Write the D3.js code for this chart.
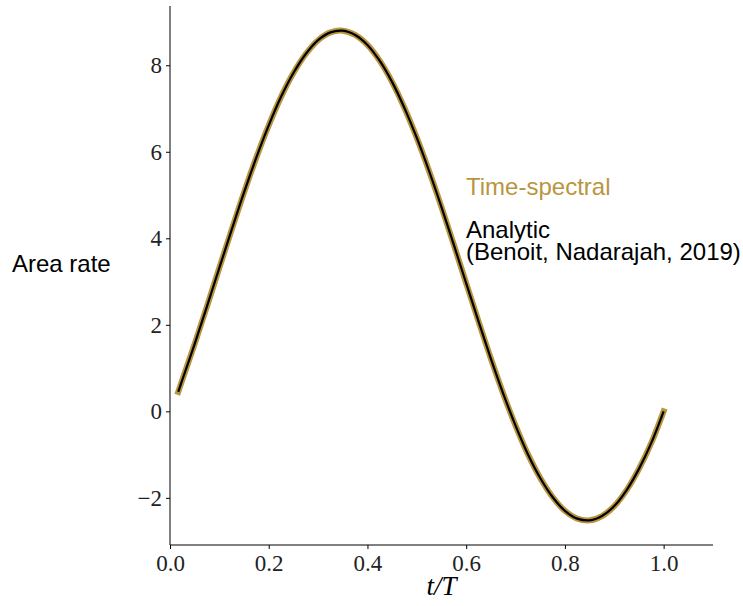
<!DOCTYPE html>
<html>
<head>
<meta charset="utf-8">
<script src="https://cdn.jsdelivr.net/npm/d3@7"></script>
<style>
  body { margin: 0; background: #fff; }
  svg { display: block; }
  .tick text { font-family: "Liberation Serif", "Times New Roman", serif; font-size: 23px; fill: #222; }
  .domain, .tick line { stroke: #000; }
</style>
</head>
<body>
<svg id="chart"></svg>
<script>
// curve values
var tValues = [0.0167, 0.025, 0.05, 0.075, 0.1, 0.125, 0.15, 0.175, 0.2, 0.225, 0.25,
    0.275, 0.3, 0.325, 0.35, 0.375, 0.4, 0.425, 0.45, 0.475, 0.5, 0.525, 0.55, 0.575,
    0.6, 0.625, 0.65, 0.675, 0.7, 0.725, 0.75, 0.775, 0.8, 0.825, 0.85, 0.875, 0.9,
    0.925, 0.95, 0.975, 1.0];
var areaRate = [0.45, 0.73, 1.56, 2.43, 3.32, 4.20, 5.06, 5.87, 6.61, 7.27, 7.82,
    8.26, 8.58, 8.76, 8.80, 8.70, 8.47, 8.10, 7.61, 7.01, 6.32, 5.55, 4.72, 3.85,
    2.96, 2.08, 1.22, 0.41, -0.33, -0.99, -1.54, -1.98, -2.30, -2.48, -2.52, -2.42, -2.19,
    -1.82, -1.33, -0.73, 0.0];
var xTicks = [0.0, 0.2, 0.4, 0.6, 0.8, 1.0];
var yTicks = [-2, 0, 2, 4, 6, 8];
var seriesNames = ["Time-spectral", "Analytic", "(Benoit, Nadarajah, 2019)"];

var width = 743, height = 606;
var margin = { "left": 170, "right": 30, "top": 6, "bottom": 61 };
var gold = "#b8963f";

var svg = d3.select("#chart")
    .attr("width", width)
    .attr("height", height);

var x = d3.scaleLinear()
    .domain([0, 1.1])
    .range([margin.left, width - margin.right]);

var y = d3.scaleLinear()
    .domain([-3.09, 9.37])
    .range([height - margin.bottom, margin.top]);

var data = tValues.map((t, i) => ({ t: t, v: areaRate[i] }));

var line = d3.line()
    .x(d => x(d.t))
    .y(d => y(d.v))
    .curve(d3.curveCatmullRom);

// time-spectral (thick gold) under analytic (thin black)
svg.append("path")
    .datum(data)
    .attr("d", line)
    .attr("fill", "none")
    .attr("stroke", gold)
    .attr("stroke-width", 6)
    .attr("stroke-linecap", "square");

svg.append("path")
    .datum(data)
    .attr("d", line)
    .attr("fill", "none")
    .attr("stroke", "#000")
    .attr("stroke-width", 2.2);

// axes
var fmtY = d => d < 0 ? "\u2212" + Math.abs(d) : String(d);

svg.append("g")
    .attr("transform", "translate(0," + (height - margin.bottom) + ")")
    .call(d3.axisBottom(x).tickValues(xTicks).tickFormat(d3.format(".1f")).tickSize(4).tickPadding(6))
    .call(g => g.select(".domain").attr("d", "M" + x(0) + ",0H" + x(1.1)));

svg.append("g")
    .attr("transform", "translate(" + margin.left + ",0)")
    .call(d3.axisLeft(y).tickValues(yTicks).tickFormat(fmtY).tickSize(4).tickPadding(4))
    .call(g => g.select(".domain").attr("d", "M0," + y(-3.09) + "V" + y(9.37)));

svg.selectAll(".tick text").attr("font-family", null).attr("font-size", null);

// axis labels
svg.append("text")
    .attr("x", (x(0) + x(1.1)) / 2)
    .attr("y", 595)
    .attr("text-anchor", "middle")
    .style("font-family", "'Liberation Serif', serif")
    .style("font-style", "italic")
    .style("font-size", "27px")
    .text("t/T");

svg.append("text")
    .attr("x", 12)
    .attr("y", 272)
    .style("font-family", "'Liberation Sans', Arial, sans-serif")
    .style("font-size", "24px")
    .text("Area rate");

// inline legend
var legend = svg.append("g")
    .style("font-family", "'Liberation Sans', Arial, sans-serif")
    .style("font-size", "24px");

legend.append("text")
    .attr("x", 466)
    .attr("y", 195)
    .attr("fill", gold)
    .text(seriesNames[0]);

legend.append("text")
    .attr("x", 466)
    .attr("y", 238)
    .attr("fill", "#000")
    .text(seriesNames[1]);

legend.append("text")
    .attr("x", 466)
    .attr("y", 260)
    .attr("fill", "#000")
    .text(seriesNames[2]);
</script>
</body>
</html>
